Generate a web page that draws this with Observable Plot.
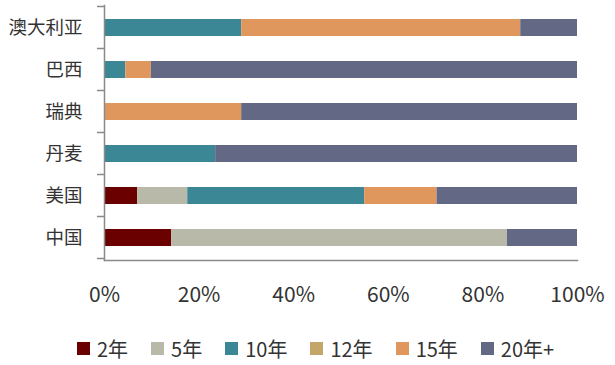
<!DOCTYPE html>
<html>
<head>
<meta charset="utf-8">
<script src="https://cdn.jsdelivr.net/npm/d3@7"></script>
<script src="https://cdn.jsdelivr.net/npm/@observablehq/plot@0.6"></script>
<style>
  html, body { margin: 0; padding: 0; background: #fff; }
  body { width: 615px; height: 365px; overflow: hidden; font-family: "Noto Sans CJK SC", "Noto Sans", sans-serif; color: #333; }
  #legend { display: flex; justify-content: flex-start; align-items: center; height: 36px; padding-left: 77px; box-sizing: border-box; font-size: 20px; color: #333; }
  .item { display: flex; align-items: center; margin-right: 23px; }
  .sw { width: 13px; height: 13px; margin-right: 7px; }
</style>
</head>
<body>
<div id="chart"></div>
<div id="legend"></div>
<script>
const categories = ["澳大利亚", "巴西", "瑞典", "丹麦", "美国", "中国"];
const seriesNames = ["2年", "5年", "10年", "12年", "15年", "20年+"];
const seriesColors = ["#6b0000", "#b9b9aa", "#3c8796", "#c4a66a", "#e0975d", "#636985"];
// values (%) per series, aligned with categories
const v2 =  [0,   0,   0,  0,    7.0,  14.2];
const v5 =  [0,   0,   0,  0,    10.6, 71.0];
const v10 = [29.0, 4.5, 0, 23.5, 37.4, 0];
const v12 = [0,   0,   0,  0,    0,    0];
const v15 = [59.0, 5.4, 29.0, 0, 15.3, 0];
const v20 = [12.0, 90.1, 71.0, 76.5, 29.7, 14.8];
const xTicks = [0, 20, 40, 60, 80, 100];

const seriesValues = [v2, v5, v10, v12, v15, v20];
const data = [];
seriesNames.forEach((s, i) => {
  categories.forEach((c, j) => {
    data.push({cat: c, series: s, value: seriesValues[i][j]});
  });
});

const boundaryTicks = (index, scales, values, dimensions) => {
  const g = d3.create("svg:g");
  const y = scales.y;
  const step = y.step();
  const bw = y.bandwidth();
  const x0 = dimensions.marginLeft;
  const ys = categories.map(c => y(c) - (step - bw) / 2);
  ys.push(ys[ys.length - 1] + step);
  g.selectAll("line").data(ys).join("line")
    .attr("x1", x0 - 7).attr("x2", x0)
    .attr("y1", d => d).attr("y2", d => d)
    .attr("stroke", "#8a8a8a").attr("stroke-width", 1.5);
  return g.node();
};

const chart = Plot.plot({
  width: 615,
  height: 330,
  marginLeft: 104,
  marginRight: 38,
  marginTop: 5,
  marginBottom: 70,
  style: {fontFamily: "'Noto Sans CJK SC', sans-serif", fontSize: "18px", color: "#333", background: "#fff"},
  x: {domain: [0, 100]},
  y: {domain: categories, paddingInner: 0.6, paddingOuter: 0.3},
  color: {domain: seriesNames, range: seriesColors},
  marks: [
    Plot.barX(data, Plot.stackX({y: "cat", x: "value", fill: "series", order: seriesNames})),
    Plot.frame({anchor: "left", stroke: "#8a8a8a", strokeWidth: 1.5}),
    Plot.frame({anchor: "bottom", stroke: "#8a8a8a", strokeWidth: 1.5}),
    boundaryTicks,
    Plot.axisX({ticks: xTicks, tickSize: 0, tickPadding: 27, tickFormat: d => d + "%", label: null, fontSize: 21, fill: "#333"}),
    Plot.axisY({tickSize: 0, tickPadding: 22, label: null, fontSize: 18.5, fill: "#333"})
  ]
});
document.getElementById("chart").appendChild(chart);

const legend = document.getElementById("legend");
seriesNames.forEach((s, i) => {
  const item = document.createElement("div");
  item.className = "item";
  const sw = document.createElement("div");
  sw.className = "sw";
  sw.style.background = seriesColors[i];
  const lab = document.createElement("span");
  lab.textContent = s;
  item.appendChild(sw);
  item.appendChild(lab);
  legend.appendChild(item);
});
</script>
</body>
</html>
